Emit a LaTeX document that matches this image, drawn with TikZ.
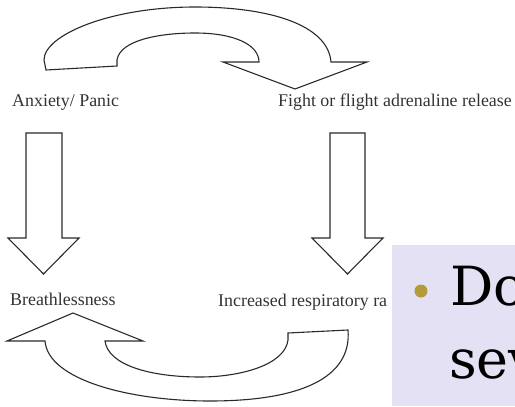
\documentclass[tikz,border=0pt]{standalone}
\usepackage{fontspec}
\setmainfont{Liberation Serif}
\newfontfamily\slabfont{DejaVu Serif}
\definecolor{linegray}{HTML}{2A2A2A}
\definecolor{textgray}{HTML}{333333}
\definecolor{panelbg}{HTML}{E3E1F3}
\definecolor{bulletgold}{HTML}{B39B3C}
\begin{document}
\begin{tikzpicture}[x=1pt,y=-1pt,
  blockarrow/.style={draw=linegray, line width=1.1pt, fill=white, line join=miter},
  steplabel/.style={anchor=base west, inner sep=0pt, text=textgray,
                    font=\fontsize{17.9}{20}\selectfont},
  slidetext/.style={anchor=base west, inner sep=0pt, text=black,
                    font=\slabfont\fontsize{54}{60}\selectfont}]
\useasboundingbox (0,0) rectangle (515,407);
\clip (0,0) rectangle (515,407);

% curved arrow along the top: anxiety -> adrenaline
\draw[blockarrow] (46,70) -- (117,66) -- (117,60)
  .. controls (120,40) and (160,33) .. (195,33)
  .. controls (235,33) and (259,45) .. (259,62)
  -- (223,62) -- (295,89) -- (367,62) -- (331,62)
  .. controls (328,25) and (270,7) .. (195,7)
  .. controls (110,7) and (44,35) .. (44,60) -- cycle;

% straight arrows down both sides
\draw[blockarrow] (26,133) -- (62,133) -- (62,238) -- (79,238) -- (43.5,274)
  -- (8,238) -- (26,238) -- cycle;
\draw[blockarrow] (330,133) -- (365,133) -- (365,238) -- (383,238) -- (347.5,274)
  -- (312,238) -- (330,238) -- cycle;

% curved arrow along the bottom: respiratory rate -> breathlessness
\draw[blockarrow] (45,341)
  .. controls (48,380) and (130,401) .. (210,401)
  .. controls (300,401) and (352,378) .. (348,330)
  -- (288,333) -- (288,340)
  .. controls (285,365) and (240,377) .. (200,377)
  .. controls (150,377) and (108,365) .. (105,341)
  -- (143,341) -- (73,313) -- (7,341) -- cycle;

% stage labels
\node[steplabel] (anx)    at (12,106)  {Anxiety/ Panic};
\node[steplabel] (fight)  at (278,106) {Fight or flight adrenaline release};
\node[steplabel] (breath) at (10,305)  {Breathlessness};
\node[steplabel] (incr)   at (218,306) {Increased respiratory ra};

% slide panel with bullet text
\fill[panelbg] (392,245) rectangle (515,406);
\fill[bulletgold] (421,291) circle (6.5pt);
\node[slidetext] (lineone) at (450,305) {Do};
\node[slidetext] (linetwo) at (449,378) {sev};
\end{tikzpicture}
\end{document}
